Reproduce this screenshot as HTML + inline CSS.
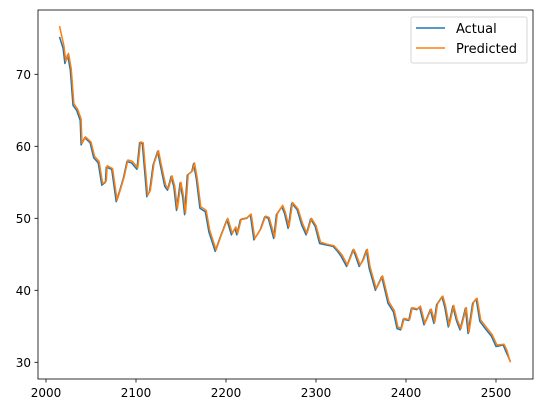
<!DOCTYPE html>
<html><head><meta charset="utf-8"><style>
html,body{margin:0;padding:0;background:#fff;}
svg{display:block;font-family:"DejaVu Sans","Liberation Sans",sans-serif;}
</style></head><body>
<svg id="chart" width="543" height="413" viewBox="0 0 543 413">
<g id="plot"></g>
<g id="axes"></g>
<g id="legend">
<rect x="411" y="17" width="116" height="46" rx="2" fill="#fff" fill-opacity="0.8" stroke="#d6d6d6"/>
<line x1="416" y1="28" x2="445" y2="28" stroke="#1f77b4" stroke-width="1.5"/>
<text x="456" y="33" font-size="13" fill="#000">Actual</text>
<line x1="416" y1="48" x2="445" y2="48" stroke="#ff7f0e" stroke-width="1.5"/>
<text x="456" y="53" font-size="13" fill="#000">Predicted</text>
</g>
</svg>
<script>
const actualX=[2015,2019,2021,2024,2027,2030,2034,2038,2039,2043,2049,2053,2058,2062,2066,2067,2073,2078,2082,2086,2090,2095,2101,2104,2107,2112,2115,2119,2124,2127,2132,2135,2139,2142,2145,2149,2152,2154,2157,2162,2164,2167,2171,2177,2181,2188,2193,2201,2206,2210,2212,2216,2223,2227,2231,2238,2243,2247,2253,2256,2262,2265,2269,2273,2279,2284,2289,2294,2299,2304,2311,2319,2324,2328,2334,2341,2343,2348,2352,2356,2359,2366,2373,2380,2386,2390,2394,2397,2403,2406,2412,2415,2420,2427,2431,2434,2440,2443,2447,2452,2456,2460,2466,2469,2474,2478,2482,2488,2495,2500,2508,2511,2516];
const actualY=[75.2,73.6,71.5,72.7,70.6,65.7,65.0,63.6,60.2,61.2,60.5,58.4,57.7,54.6,55.0,57.1,56.8,52.3,53.9,55.6,57.9,57.7,56.8,60.5,60.4,53.0,53.7,57.4,59.3,57.4,54.4,53.9,55.8,54.4,51.1,54.9,52.8,50.5,56.0,56.5,57.6,55.5,51.4,50.9,48.1,45.4,47.2,49.8,47.7,48.6,47.7,49.8,50.0,50.5,47.0,48.4,50.2,50.0,47.2,50.5,51.6,50.7,48.6,52.1,51.2,49.1,47.7,49.9,48.9,46.5,46.3,46.1,45.4,44.7,43.3,45.6,45.1,43.3,44.2,45.6,43.1,40.0,41.9,38.2,37.0,34.7,34.5,36.0,35.8,37.5,37.3,37.7,35.2,37.3,35.4,38.0,39.1,37.7,34.9,37.8,35.8,34.5,37.5,34.0,38.2,38.8,35.7,34.7,33.6,32.2,32.4,31.5,30.1];
const predX=[2015,2020,2022,2025,2028,2031,2035,2039,2040,2044,2050,2054,2059,2063,2067,2068,2074,2079,2083,2087,2091,2096,2102,2105,2108,2113,2116,2120,2125,2128,2133,2136,2140,2143,2146,2150,2153,2155,2158,2163,2165,2168,2172,2178,2182,2189,2194,2202,2207,2211,2213,2217,2224,2228,2232,2239,2244,2248,2254,2257,2263,2266,2270,2274,2280,2285,2290,2295,2300,2305,2312,2320,2325,2329,2335,2342,2344,2349,2353,2357,2360,2367,2374,2381,2387,2391,2395,2398,2404,2407,2413,2416,2421,2428,2432,2435,2441,2444,2448,2453,2457,2461,2467,2470,2475,2479,2483,2489,2496,2501,2509,2512,2516];
const predY=[76.7,73.9,71.8,72.9,70.8,65.9,65.2,63.8,60.4,61.3,60.6,58.6,57.9,54.8,55.2,57.3,56.9,52.5,54.1,55.8,58.1,57.9,57.0,60.6,60.5,53.2,53.9,57.6,59.4,57.5,54.6,54.1,55.9,54.5,51.3,55.0,52.9,50.7,56.1,56.6,57.7,55.6,51.6,51.1,48.3,45.6,47.4,50.0,47.9,48.8,47.9,49.9,50.1,50.6,47.2,48.6,50.3,50.1,47.4,50.6,51.8,50.8,48.8,52.2,51.3,49.3,47.9,50.0,49.0,46.7,46.4,46.2,45.5,44.9,43.5,45.7,45.2,43.5,44.3,45.7,43.3,40.2,42.0,38.4,37.2,34.9,34.7,36.1,35.9,37.6,37.4,37.8,35.4,37.4,35.6,38.1,39.2,37.8,35.1,37.9,35.9,34.7,37.6,34.2,38.3,38.9,35.9,34.9,33.8,32.4,32.5,31.7,30.0];
const xTicks=[2000,2100,2200,2300,2400,2500];
const yTicks=[30,40,50,60,70];

const NS="http://www.w3.org/2000/svg";
const L=38,R=533,T=10,B=379;
function sx(v){return 46+(v-2000)*0.9;}
function sy(v){return 362.3-(v-30)*7.2;}
function mk(tag,attrs,parent){const e=document.createElementNS(NS,tag);for(const k in attrs)e.setAttribute(k,attrs[k]);parent.appendChild(e);return e;}
const plot=document.getElementById('plot'),axes=document.getElementById('axes');
function series(xs,ys,color,name){
  const d=xs.map((x,i)=>(i?'L':'M')+sx(x).toFixed(1)+','+sy(ys[i]).toFixed(1)).join(' ');
  const p=mk('path',{d:d,fill:'none',stroke:color,'stroke-width':1.5,'stroke-linejoin':'round'},plot);
  
  
}
series(actualX,actualY,'#1f77b4','actual-line');
series(predX,predY,'#ff7f0e','predicted-line');
const fr=mk('rect',{x:L,y:T,width:R-L,height:B-T,fill:'none',stroke:'#000','stroke-width':0.8},axes);


xTicks.forEach(v=>{
  const x=sx(v);
  const t=mk('line',{x1:x,y1:B,x2:x,y2:B+3.5,stroke:'#000','stroke-width':0.8},axes);
  
  
  const tx=mk('text',{x:x,y:B+18,'font-size':12,'text-anchor':'middle',fill:'#000'},axes);
  tx.textContent=v;
  
  
});
yTicks.forEach(v=>{
  const y=sy(v);
  const t=mk('line',{x1:L-3.5,y1:y,x2:L,y2:y,stroke:'#000','stroke-width':0.8},axes);
  
  
  const tx=mk('text',{x:L-7,y:y+4.5,'font-size':12,'text-anchor':'end',fill:'#000'},axes);
  tx.textContent=v;
  
  
});
</script>
</body></html>
